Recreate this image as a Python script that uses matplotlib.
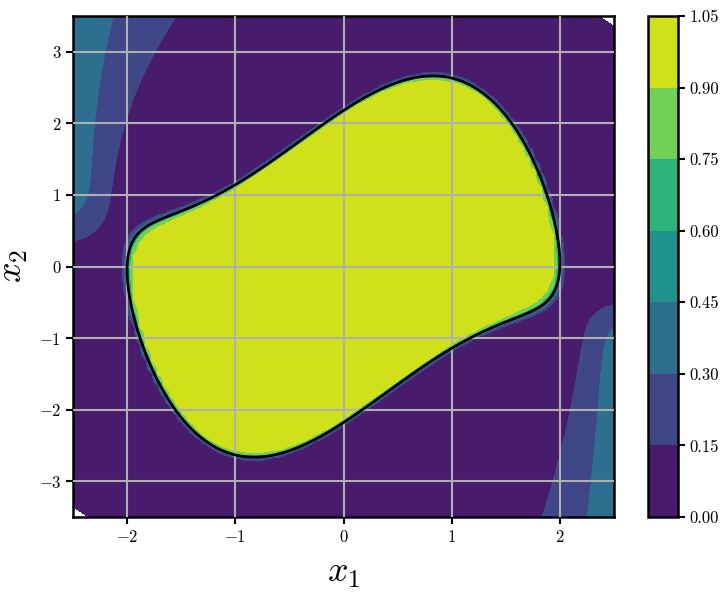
import numpy as np
import matplotlib
matplotlib.use('Agg')
import matplotlib.pyplot as plt
import matplotlib.ticker as mtick

plt.rcParams['font.family'] = 'serif'
plt.rcParams['font.serif'] = ['cmr10']
plt.rcParams['mathtext.fontset'] = 'cm'
plt.rcParams['axes.formatter.use_mathtext'] = True

# plotting window and colour levels
x1_lim = [-2.5, 2.5]
x2_lim = [-3.5, 3.5]
x1_ticks = [-2, -1, 0, 1, 2]
x2_ticks = [-3, -2, -1, 0, 1, 2, 3]
levels = [0.00, 0.15, 0.30, 0.45, 0.60, 0.75, 0.90, 1.05]

# decision boundary (sheared ellipse)
half_width = 2.0          # x1 extent of the region
half_height = 2.18        # x2 half-height at x1 = 0
shear_lin = 0.985         # centre line x2 = a*x1 - b*x1^3
shear_cub = 0.24
inside_val = 0.97
outside_val = 0.02
sharpness = 60.0

# soft tails along the side edges: [top-left, bottom-right]
tail_peak = 0.42
tail_y0 = [0.49, 0.61]
tail_ys = [0.213, 0.16]
tail_c = [[0.26, 0.015, 0.055], [0.19, 0.06, 0.016]]    # band offset from edge
tail_w = [[0.128, 0.03, 0.03], [0.128, 0.03, 0.012]]    # band softness


def sig(t):
    return 1 / (1 + np.exp(-np.clip(t, -50, 50)))


def field(x1, x2):
    centre = shear_lin * x1 - shear_cub * x1 ** 3
    g = (x1 / half_width) ** 2 + ((x2 - centre) / half_height) ** 2 - 1.0
    inner = outside_val + (inside_val - outside_val) * sig(-sharpness * g)

    def tail(u, v, k):
        d = u - x1_lim[0]
        t = np.clip(v - 1.0, 0, None)
        c = tail_c[k][0] + tail_c[k][1] * t + tail_c[k][2] * t ** 2
        w = tail_w[k][0] + tail_w[k][1] * t + tail_w[k][2] * t ** 2
        return tail_peak * sig((v - tail_y0[k]) / tail_ys[k]) * sig((c - d) / w)

    z = inner + tail(x1, x2, 0) + tail(-x1, -x2, 1)
    # tiny empty corners (value drops under the lowest level)
    z -= 0.6 * np.exp(-((x1_lim[1] - x1) + (x2_lim[1] - x2)) / 0.04)
    z -= 0.6 * np.exp(-((x1 - x1_lim[0]) + (x2 - x2_lim[0])) / 0.04)
    return z


gx, gy = np.meshgrid(np.linspace(*x1_lim, 90), np.linspace(*x2_lim, 120))
fx, fy = np.meshgrid(np.linspace(*x1_lim, 500), np.linspace(*x2_lim, 700))

fig = plt.figure(figsize=(7.23, 6), dpi=100)
ax = fig.add_axes([73 / 723, 83 / 600, 541 / 723, 501 / 600])
cax = fig.add_axes([648 / 723, 83 / 600, 30 / 723, 501 / 600])

cf = ax.contourf(gx, gy, field(gx, gy), levels=levels, cmap='viridis', zorder=1)
ax.contour(fx, fy, field(fx, fy), levels=[0.5], colors='black', linewidths=2, zorder=3)

ax.set_xlim(x1_lim)
ax.set_ylim(x2_lim)
ax.set_xticks(x1_ticks)
ax.set_yticks(x2_ticks)
ax.set_axisbelow(False)
ax.grid(True, color='#b0b0b0', lw=1.5)
ax.tick_params(direction='out', length=5, width=1.5, labelsize=12)
for s in ax.spines.values():
    s.set_linewidth(1.8)
ax.set_xlabel('$x_1$', fontsize=26, labelpad=10)
ax.set_ylabel('$x_2$', fontsize=26, labelpad=6)

cb = fig.colorbar(cf, cax=cax, ticks=levels)
cb.ax.yaxis.set_major_formatter(mtick.FormatStrFormatter('%.2f'))
cb.ax.tick_params(direction='out', length=5, width=1.5, labelsize=12)
cb.outline.set_linewidth(1.8)

fig.savefig('out.png', dpi=100)
